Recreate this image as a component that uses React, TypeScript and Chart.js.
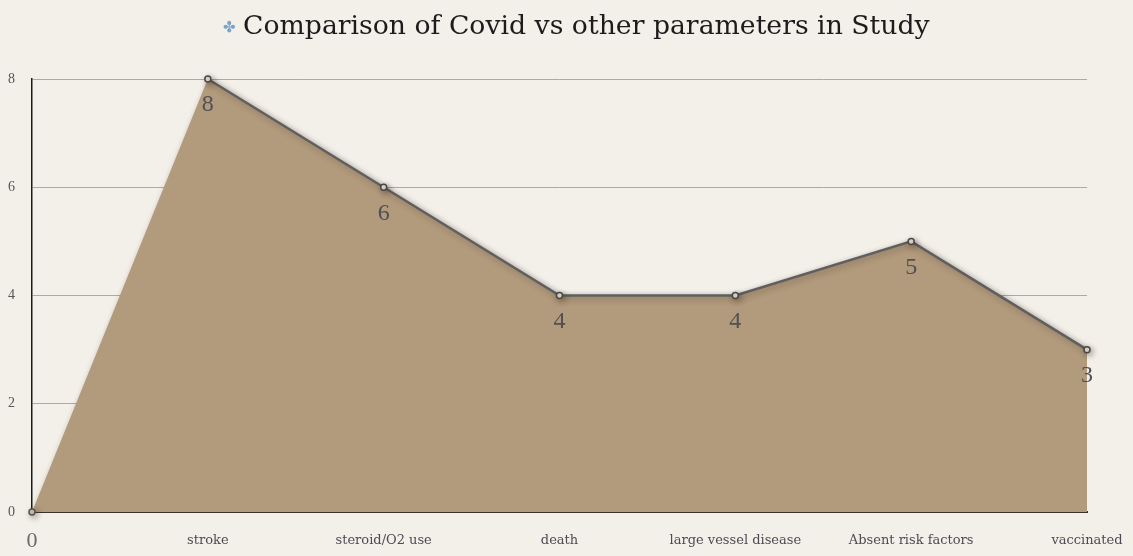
import { useEffect, useRef } from "react";
import { Chart, registerables } from "chart.js";

Chart.register(...registerables);

// Categories along the bottom axis and the count for each one
const categories = [
  "0",
  "stroke",
  "steroid/O2 use",
  "death",
  "large vessel disease",
  "Absent risk factors",
  "vaccinated",
];
const counts = [0, 8, 6, 4, 4, 5, 3];
const yTicks = [0, 2, 4, 6, 8];
const chartTitle = "Comparison of Covid vs other parameters in Study";

const PAPER = "#f3efe9";
const AREA = "#b29a7c";
const LINE = "#5f5f5f";

// The outline starts at the first named category; the rise from the origin has no stroke
const outline = counts.map((v, i) => (i === 0 ? null : v));
const originMarker = counts.map((v, i) => (i === 0 ? v : null));

// Soft drop shadow under the filled area and its outline
const shadowPlugin = {
  id: "areaShadow",
  beforeDatasetsDraw(chart: any) {
    const ctx = chart.ctx;
    ctx.save();
    ctx.shadowColor = "rgba(50,38,25,0.4)";
    ctx.shadowBlur = 6;
    ctx.shadowOffsetX = 2;
    ctx.shadowOffsetY = 2;
  },
  afterDatasetsDraw(chart: any) {
    chart.ctx.restore();
  },
};

// Value numbers printed just under each point
const valueLabelPlugin = {
  id: "valueLabels",
  afterDatasetsDraw(chart: any) {
    const ctx = chart.ctx;
    const meta = chart.getDatasetMeta(0);
    ctx.save();
    ctx.font = "24px 'Liberation Serif', serif";
    ctx.fillStyle = "#505055";
    ctx.textAlign = "center";
    ctx.textBaseline = "middle";
    meta.data.forEach((pt: any, i: number) => {
      if (i === 0) return;
      ctx.fillText(String(counts[i]), pt.x, pt.y + 26);
    });
    ctx.restore();
  },
};

// Heading with a small ornament in front of it
const headingPlugin = {
  id: "heading",
  afterDraw(chart: any) {
    const ctx = chart.ctx;
    ctx.save();
    ctx.textBaseline = "alphabetic";
    ctx.textAlign = "left";
    ctx.fillStyle = "#7aa3c8";
    ctx.font = "15px 'DejaVu Sans', sans-serif";
    ctx.fillText("\u2724", 223, 32);
    ctx.fillStyle = "#1c1c1c";
    ctx.font = "26.7px 'DejaVu Serif', serif";
    ctx.fillText(chartTitle, 243, 34);
    ctx.restore();
  },
};

export default function App() {
  const canvasRef = useRef<HTMLCanvasElement | null>(null);

  useEffect(() => {
    if (!canvasRef.current) return;
    const chart = new Chart(canvasRef.current, {
      type: "line",
      data: {
        labels: categories,
        datasets: [
          {
            // filled area
            data: counts,
            order: 2,
            fill: "origin",
            backgroundColor: AREA,
            borderWidth: 0,
            borderColor: "rgba(0,0,0,0)",
            tension: 0,
            pointRadius: 0,
          },
          {
            // outline with point markers
            data: outline,
            order: 1,
            fill: false,
            spanGaps: false,
            borderColor: LINE,
            borderWidth: 2.5,
            tension: 0,
            clip: false as any,
            pointRadius: 3,
            pointBorderWidth: 1.5,
            pointBorderColor: "#474747",
            pointBackgroundColor: "#e6ddd2",
          },
          {
            // marker at the origin
            data: originMarker,
            order: 0,
            fill: false,
            showLine: false,
            clip: false as any,
            pointRadius: 3,
            pointBorderWidth: 1.5,
            pointBorderColor: "#555",
            pointBackgroundColor: "#cfc6ba",
          },
        ],
      },
      options: {
        responsive: false,
        animation: false,
        layout: { padding: { top: 79, right: 46, left: 0, bottom: 0 } },
        plugins: {
          legend: { display: false },
          title: { display: false },
          tooltip: { enabled: false },
        },
        scales: {
          x: {
            type: "category",
            offset: false,
            grid: { display: false, drawTicks: false },
            border: { display: true, color: "#3a312c", width: 2 },
            ticks: {
              padding: 21,
              autoSkip: false,
              maxRotation: 0,
              color: (c: any) => (c.index === 0 ? "#6a6a6a" : "#4b4b55"),
              font: (c: any) =>
                c.index === 0
                  ? { family: "'Liberation Serif', serif", size: 22, lineHeight: 0.72 }
                  : { family: "'DejaVu Serif', serif", size: 13 },
            },
            afterFit: (s: any) => {
              s.height = 44;
              s.paddingLeft = 0;
              s.paddingRight = 0;
            },
          },
          y: {
            min: 0,
            max: 8,
            afterBuildTicks: (s: any) => {
              s.ticks = yTicks.map((v) => ({ value: v }));
            },
            ticks: {
              padding: 17,
              color: "#555",
              font: { family: "'Liberation Serif', serif", size: 14 },
            },
            grid: { color: "#aaaaaa", lineWidth: 1, drawTicks: false },
            border: { display: true, color: "#1a1a1a", width: 1.5 },
            afterFit: (s: any) => {
              s.width = 32;
            },
          },
        },
      },
      plugins: [shadowPlugin, valueLabelPlugin, headingPlugin],
    });
    return () => chart.destroy();
  }, []);

  return (
    <div
      style={{
        position: "fixed",
        left: 0,
        top: 0,
        width: 1133,
        height: 556,
        background: PAPER,
      }}
    >
      <canvas ref={canvasRef} width={1133} height={556} />
    </div>
  );
}
